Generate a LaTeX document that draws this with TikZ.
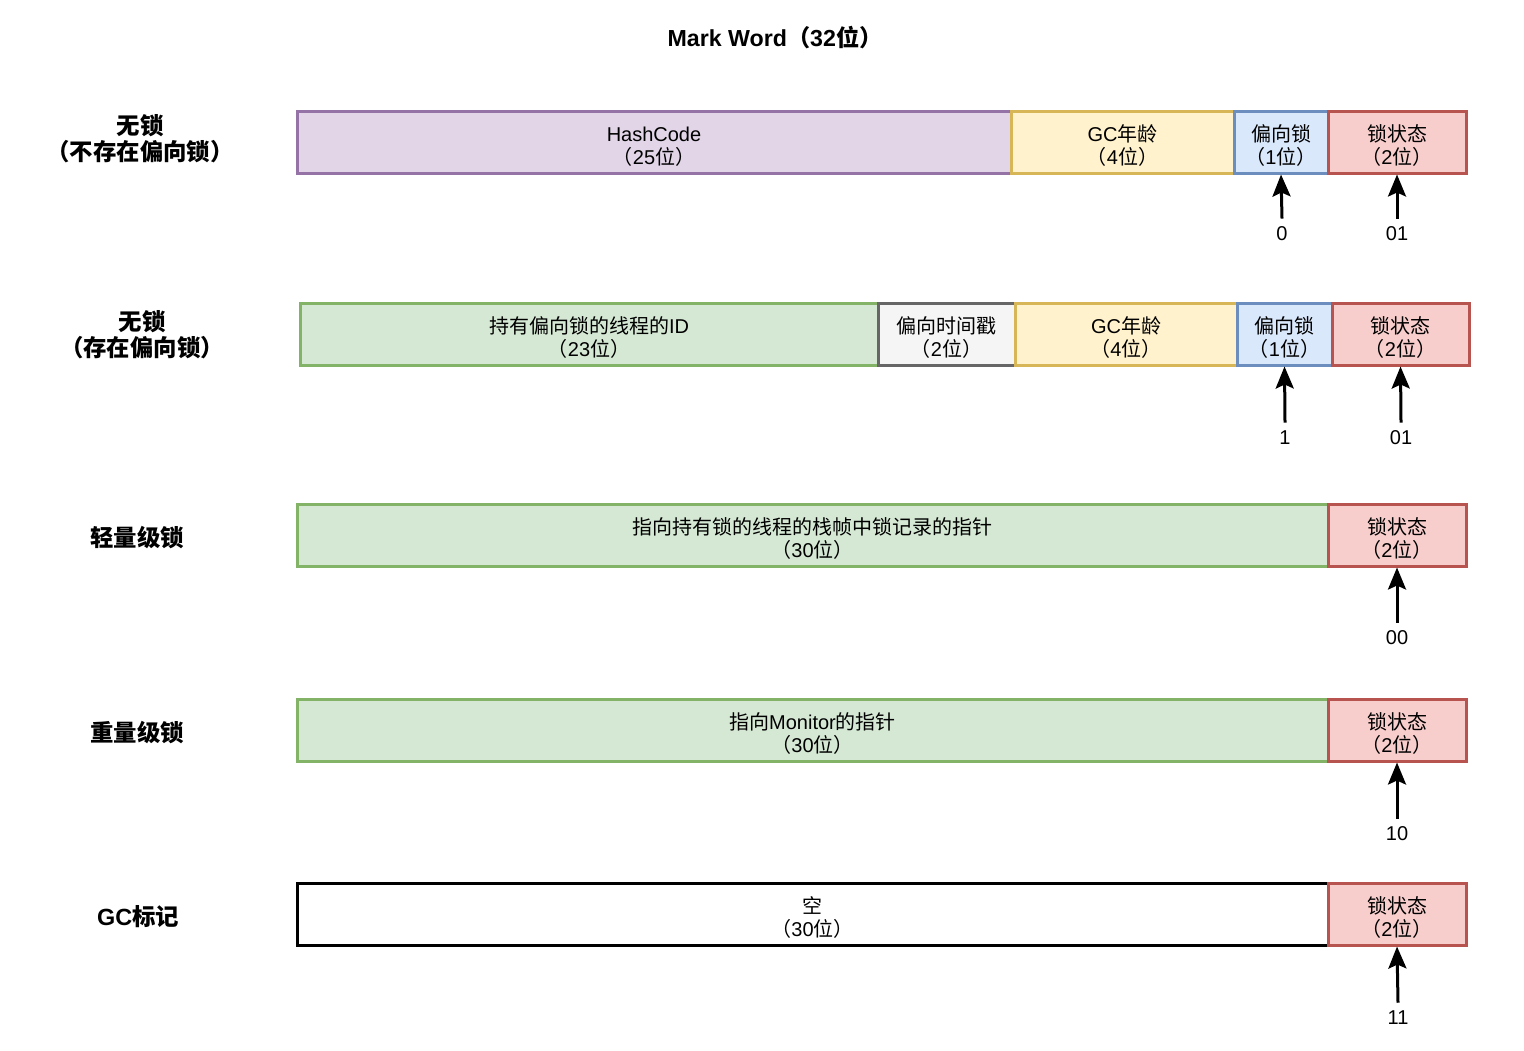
\documentclass[tikz,border=0pt]{standalone}
\usepackage{fontspec}
\setmainfont{Noto Sans CJK SC}
\newfontfamily\la{Liberation Sans}
\usetikzlibrary{arrows.meta}
\newcommand\tstrut{\rule{0pt}{11.8pt}}
\definecolor{pfill}{HTML}{E1D5E7}\definecolor{pline}{HTML}{9673A6}
\definecolor{yfill}{HTML}{FFF2CC}\definecolor{yline}{HTML}{D6B656}
\definecolor{bfill}{HTML}{DAE8FC}\definecolor{bline}{HTML}{6C8EBF}
\definecolor{rfill}{HTML}{F8CECC}\definecolor{rline}{HTML}{B85450}
\definecolor{gfill}{HTML}{D5E8D4}\definecolor{gline}{HTML}{82B366}
\definecolor{sfill}{HTML}{F5F5F5}\definecolor{sline}{HTML}{666666}
\tikzset{
  box/.style={draw, line width=1.5pt, inner sep=0pt, minimum height=31pt, align=center, font=\fontsize{10}{11.5}\selectfont},
  wd/.style={minimum width=#1*0.5pt},
  purplebox/.style={box, fill=pfill, draw=pline},
  yellowbox/.style={box, fill=yfill, draw=yline},
  bluebox/.style={box, fill=bfill, draw=bline},
  redbox/.style={box, fill=rfill, draw=rline},
  greenbox/.style={box, fill=gfill, draw=gline},
  greybox/.style={box, fill=sfill, draw=sline},
  whitebox/.style={box, fill=white, draw=black},
  rowlabel/.style={align=center, font=\fontsize{11.7}{13}\selectfont\bfseries},
  bitlabel/.style={inner sep=4pt, font=\fontsize{10}{12}\selectfont\la},
  arr/.style={line width=1.5pt, -{Stealth[width=9pt,length=11pt,inset=2pt]}}
}
\begin{document}
\begin{tikzpicture}[x=0.5pt,y=-0.5pt]
\useasboundingbox (0,0) rectangle (1524,1050);
\node[font=\fontsize{11.6}{14}\selectfont\bfseries] (title) at (775,38) {{\la Mark Word}（{\la 32}位）};

% row labels
\node[rowlabel] (r1) at (140,139) {无锁\\（不存在偏向锁）};
\node[rowlabel] (r2) at (142,335) {无锁\\（存在偏向锁）};
\node[rowlabel] (r3) at (137,538) {轻量级锁};
\node[rowlabel] (r4) at (137,733) {重量级锁};
\node[rowlabel] (r5) at (138,917) {{\la GC}标记};

% row 1
\node[purplebox, wd=714] (hash1) at (654,142) {\tstrut{\la HashCode}\\（{\la 25}位）};
\node[yellowbox, wd=223] (gc1) at (1122.5,142) {\tstrut{\la GC}年龄\\（{\la 4}位）};
\node[bluebox, wd=94] (bias1) at (1281,142) {\tstrut 偏向锁\\（{\la 1}位）};
\node[redbox, wd=138] (lock1) at (1397,142) {\tstrut 锁状态\\（{\la 2}位）};
\node[bitlabel] (v1a) at (1282,234) {0};
\node[bitlabel] (v1b) at (1397,234) {01};
\draw[arr] (v1a.north) -- (bias1.south);
\draw[arr] (v1b.north) -- (lock1.south);

% row 2
\node[greenbox, wd=578] (tid2) at (589,334) {\tstrut 持有偏向锁的线程的{\la ID}\\（{\la 23}位）};
\node[greybox, wd=137] (epoch2) at (946.5,334) {\tstrut 偏向时间戳\\（{\la 2}位）};
\node[yellowbox, wd=222] (gc2) at (1126,334) {\tstrut{\la GC}年龄\\（{\la 4}位）};
\node[bluebox, wd=95] (bias2) at (1284.5,334) {\tstrut 偏向锁\\（{\la 1}位）};
\node[redbox, wd=137] (lock2) at (1400.5,334) {\tstrut 锁状态\\（{\la 2}位）};
\node[bitlabel] (v2a) at (1285,438) {1};
\node[bitlabel] (v2b) at (1401,438) {01};
\draw[arr] (v2a.north) -- (bias2.south);
\draw[arr] (v2b.north) -- (lock2.south);

% row 3
\node[greenbox, wd=1031] (ptr3) at (812.5,535) {\tstrut 指向持有锁的线程的栈帧中锁记录的指针\\（{\la 30}位）};
\node[redbox, wd=138] (lock3) at (1397,535) {\tstrut 锁状态\\（{\la 2}位）};
\node[bitlabel] (v3) at (1397,638) {00};
\draw[arr] (v3.north) -- (lock3.south);

% row 4
\node[greenbox, wd=1031] (ptr4) at (812.5,730) {\tstrut 指向{\la Monitor}的指针\\（{\la 30}位）};
\node[redbox, wd=138] (lock4) at (1397,730) {\tstrut 锁状态\\（{\la 2}位）};
\node[bitlabel] (v4) at (1397,834) {10};
\draw[arr] (v4.north) -- (lock4.south);

% row 5
\node[whitebox, wd=1031] (empty5) at (812.5,914) {\tstrut 空\\（{\la 30}位）};
\node[redbox, wd=138] (lock5) at (1397,914) {\tstrut 锁状态\\（{\la 2}位）};
\node[bitlabel] (v5) at (1398,1018) {11};
\draw[arr] (v5.north) -- (lock5.south);
\end{tikzpicture}
\end{document}
